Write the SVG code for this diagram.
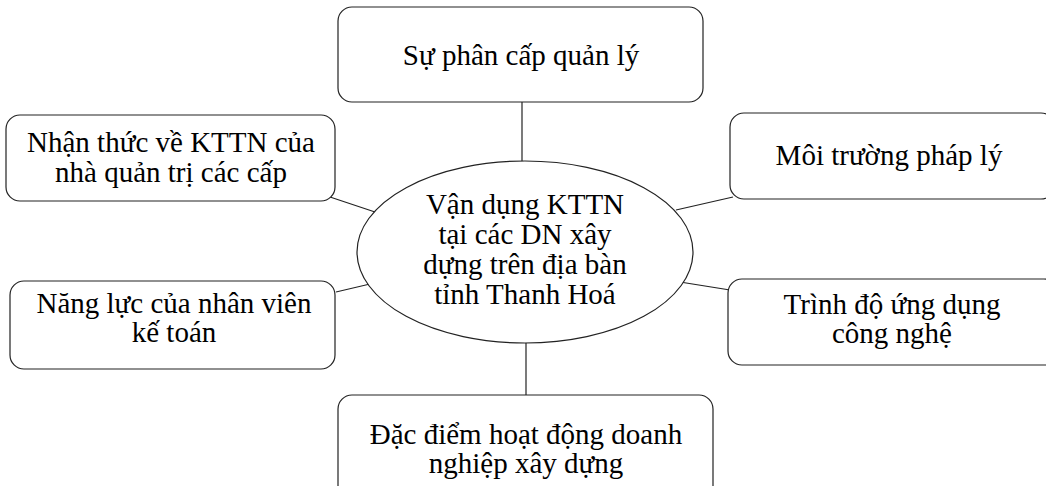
<svg xmlns="http://www.w3.org/2000/svg" width="1046" height="486" viewBox="0 0 1046 486">
<style>
.box{fill:#fff;stroke:#222;stroke-width:1.2}
.t{font-family:"Liberation Serif","Times New Roman",serif;font-size:29px;fill:#000;text-anchor:middle}
.c{stroke:#222;stroke-width:1.2;fill:none}
</style>
<rect width="1046" height="486" fill="#fff"/>
<g id="connectors">
<line class="c" x1="522" y1="102" x2="522" y2="163"/>
<line class="c" x1="330" y1="197" x2="375" y2="212"/>
<line class="c" x1="676" y1="210" x2="733" y2="197"/>
<line class="c" x1="336" y1="292" x2="370" y2="284"/>
<line class="c" x1="680" y1="282" x2="730" y2="290"/>
<line class="c" x1="526" y1="342" x2="526" y2="395"/>
</g>
<g id="center">
<ellipse class="box" cx="525" cy="252" rx="168" ry="91"/>
<text class="t" x="525" y="214">Vận dụng KTTN</text>
<text class="t" x="525" y="244">tại các DN xây</text>
<text class="t" x="525" y="274">dựng trên địa bàn</text>
<text class="t" x="525" y="304">tỉnh Thanh Hoá</text>
</g>
<g id="n-top">
<rect class="box" x="338" y="7" width="365" height="95" rx="14"/>
<text class="t" x="521" y="65">Sự phân cấp quản lý</text>
</g>
<g id="n-lefttop">
<rect class="box" x="6" y="115" width="329" height="86" rx="14"/>
<text class="t" x="171" y="152">Nhận thức về KTTN của</text>
<text class="t" x="171" y="182">nhà quản trị các cấp</text>
</g>
<g id="n-righttop">
<rect class="box" x="730" y="113" width="325" height="86" rx="14"/>
<text class="t" x="889" y="165">Môi trường pháp lý</text>
</g>
<g id="n-leftbottom">
<rect class="box" x="10" y="281" width="325" height="88" rx="14"/>
<text class="t" x="174" y="313">Năng lực của nhân viên</text>
<text class="t" x="174" y="342">kế toán</text>
</g>
<g id="n-rightbottom">
<rect class="box" x="728" y="279" width="330" height="86" rx="14"/>
<text class="t" x="892" y="314">Trình độ ứng dụng</text>
<text class="t" x="892" y="343">công nghệ</text>
</g>
<g id="n-bottom">
<rect class="box" x="338" y="395" width="375" height="110" rx="14"/>
<text class="t" x="526" y="444">Đặc điểm hoạt động doanh</text>
<text class="t" x="526" y="473">nghiệp xây dựng</text>
</g>
</svg>
